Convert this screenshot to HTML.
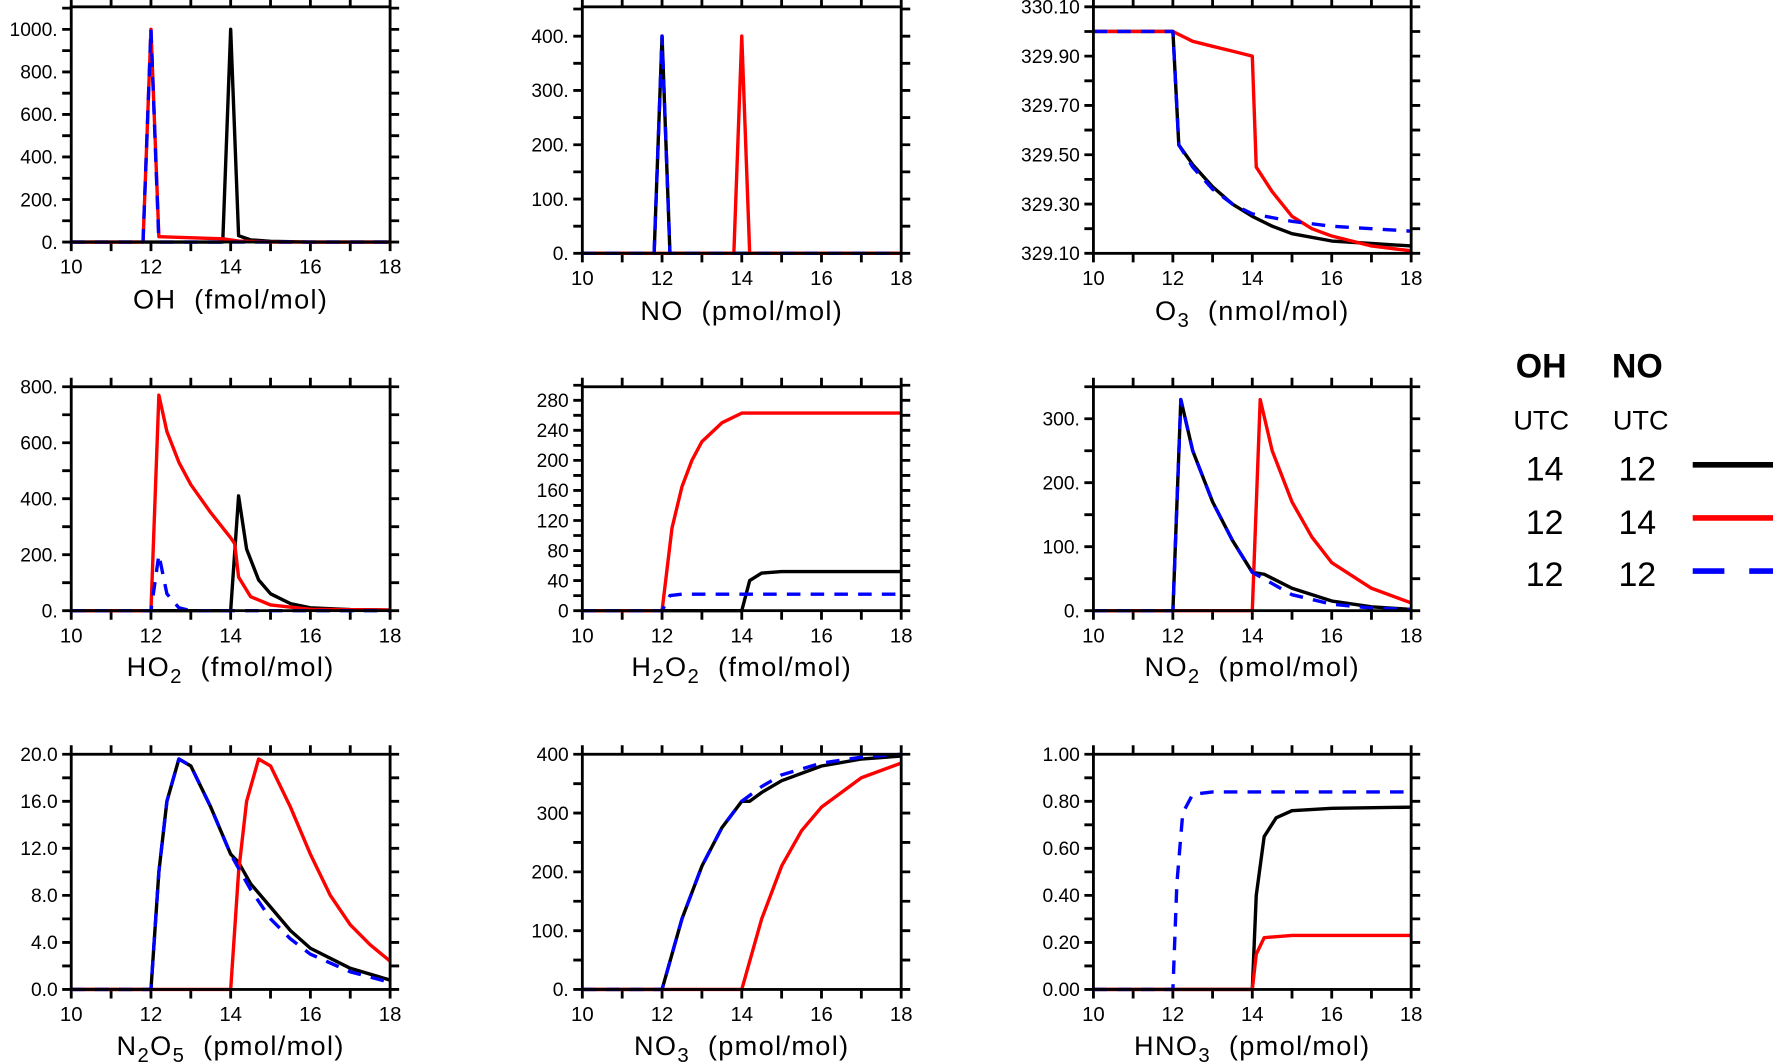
<!DOCTYPE html>
<html><head><meta charset="utf-8"><style>
html,body{margin:0;padding:0;background:#fff;}
svg{display:block;font-family:"Liberation Sans",sans-serif;}
</style></head><body>
<svg id="fig" width="1773" height="1063" viewBox="0 0 1568 940">
<g id="panels"></g>
<g>
<text x="1363" y="334" font-size="30" font-weight="bold" text-anchor="middle">OH</text>
<text x="1448" y="334" font-size="30" font-weight="bold" text-anchor="middle">NO</text>
<text x="1363" y="380" font-size="24" text-anchor="middle">UTC</text>
<text x="1451" y="380" font-size="24" text-anchor="middle">UTC</text>
<text x="1366" y="425" font-size="30" text-anchor="middle">14</text>
<text x="1448" y="425" font-size="30" text-anchor="middle">12</text>
<line x1="1497" y1="411" x2="1568" y2="411" stroke="#000" stroke-width="5"/>
<text x="1366" y="472" font-size="30" text-anchor="middle">12</text>
<text x="1448" y="472" font-size="30" text-anchor="middle">14</text>
<line x1="1497" y1="458" x2="1568" y2="458" stroke="#f00" stroke-width="5"/>
<text x="1366" y="518" font-size="30" text-anchor="middle">12</text>
<text x="1448" y="518" font-size="30" text-anchor="middle">12</text>
<line x1="1497" y1="505" x2="1568" y2="505" stroke="#00f" stroke-width="5" stroke-dasharray="28 22"/>
</g>
</svg>
<script>
// x tick labels
const xTicks = [10,12,14,16,18];
// OH
const ohBlackX=[10,13.8,14,14.2,14.5,15,16,18], ohBlackY=[0,0,1000,30,10,3,0,0];
const ohRedX=[10,11.8,12,12.2,13.8,14.2,15,18], ohRedY=[0,0,1000,25,15,5,0,0];
const ohBlueX=[10,11.8,12,12.2,18], ohBlueY=[0,0,1000,0,0];
const ohTicks=[0,200,400,600,800,1000], ohLabels=["0.","200.","400.","600.","800.","1000."];
// NO
const noBlackX=[10,11.8,12,12.2,18], noBlackY=[0,0,400,0,0];
const noRedX=[10,13.8,14,14.2,18], noRedY=[0,0,400,0,0];
const noBlueX=[10,11.8,12,12.2,18], noBlueY=[0,0,400,0,0];
const noTicks=[0,100,200,300,400], noLabels=["0.","100.","200.","300.","400."];
// O3
const o3BlackX=[10,12,12.15,12.5,13,13.5,14,14.5,15,16,17,18], o3BlackY=[330,330,329.54,329.46,329.37,329.3,329.25,329.21,329.18,329.15,329.14,329.13];
const o3RedX=[10,12,12.5,13,13.5,14,14.1,14.5,15,15.5,16,17,18], o3RedY=[330,330,329.96,329.94,329.92,329.9,329.45,329.35,329.25,329.2,329.17,329.13,329.11];
const o3BlueX=[10,12,12.15,12.5,13,13.5,14,15,16,17,18], o3BlueY=[330,330,329.54,329.45,329.36,329.3,329.26,329.23,329.21,329.2,329.19];
const o3Ticks=[329.1,329.3,329.5,329.7,329.9,330.1], o3Labels=["329.10","329.30","329.50","329.70","329.90","330.10"];
// HO2
const ho2RedX=[10,12,12.2,12.4,12.7,13,13.5,14,14.1,14.2,14.5,15,16,18], ho2RedY=[0,0,770,640,530,450,350,260,240,120,50,20,5,2];
const ho2BlackX=[10,14,14.2,14.4,14.7,15,15.5,16,17,18], ho2BlackY=[0,0,410,220,110,60,25,10,4,2];
const ho2BlueX=[10,12,12.2,12.4,12.7,13,18], ho2BlueY=[0,0,200,60,10,0,0];
const ho2Ticks=[0,200,400,600,800], ho2Labels=["0.","200.","400.","600.","800."];
// H2O2
const h2o2RedX=[10,12,12.25,12.5,12.75,13,13.5,14,18], h2o2RedY=[0,0,110,165,200,225,250,263,263];
const h2o2BlackX=[10,14,14.2,14.5,15,18], h2o2BlackY=[0,0,40,50,52,52];
const h2o2BlueX=[10,12,12.2,12.5,18], h2o2BlueY=[0,0,20,22,22];
const h2o2Ticks=[0,40,80,120,160,200,240,280], h2o2Labels=["0","40","80","120","160","200","240","280"];
// NO2
const no2BlackX=[10,12,12.2,12.5,13,13.5,14,14.3,15,16,17,18], no2BlackY=[0,0,330,250,170,110,60,57,35,15,6,2];
const no2RedX=[10,14,14.2,14.5,15,15.5,16,17,18], no2RedY=[0,0,330,250,170,115,75,35,12];
const no2BlueX=[10,12,12.2,12.5,13,13.5,14,15,16,17,18], no2BlueY=[0,0,330,250,170,110,60,25,10,4,2];
const no2Ticks=[0,100,200,300], no2Labels=["0.","100.","200.","300."];
// N2O5
const n2o5BlackX=[10,12,12.2,12.4,12.7,13,13.5,14,14.2,14.5,15,15.5,16,17,18], n2o5BlackY=[0,0,10,16,19.6,19,15.5,11.5,10.8,9,7,5,3.5,1.8,0.8];
const n2o5RedX=[10,14,14.2,14.4,14.7,15,15.5,16,16.5,17,17.5,18], n2o5RedY=[0,0,10,16,19.6,19,15.5,11.5,8,5.5,3.8,2.4];
const n2o5BlueX=[10,12,12.2,12.4,12.7,13,13.5,14,14.5,15,15.5,16,17,18], n2o5BlueY=[0,0,10,16,19.6,19,15.5,11.5,8.5,6,4.3,3,1.5,0.6];
const n2o5Ticks=[0,4,8,12,16,20], n2o5Labels=["0.0","4.0","8.0","12.0","16.0","20.0"];
// NO3
const no3BlackX=[10,12,12.5,13,13.5,14,14.2,14.5,15,16,17,18], no3BlackY=[0,0,120,210,275,320,320,335,355,380,392,397];
const no3RedX=[10,14,14.5,15,15.5,16,17,18], no3RedY=[0,0,120,210,270,310,360,385];
const no3BlueX=[10,12,12.5,13,13.5,14,14.5,15,16,17,18], no3BlueY=[0,0,120,210,275,320,345,365,385,395,400];
const no3Ticks=[0,100,200,300,400], no3Labels=["0.","100.","200.","300","400"];
// HNO3
const hno3BlackX=[10,14,14.1,14.3,14.6,15,16,18], hno3BlackY=[0,0,0.4,0.65,0.73,0.76,0.77,0.775];
const hno3RedX=[10,14,14.1,14.3,15,18], hno3RedY=[0,0,0.15,0.22,0.23,0.23];
const hno3BlueX=[10,12,12.1,12.25,12.5,13,18], hno3BlueY=[0,0,0.45,0.75,0.83,0.84,0.84];
const hno3Ticks=[0,0.2,0.4,0.6,0.8,1.0], hno3Labels=["0.00","0.20","0.40","0.60","0.80","1.00"];

const panels=[
 {n:"oh",x0:63,x1:345,top:6,bot:214,ymin:0,ymax:1106,minor:100,ticks:ohTicks,labels:ohLabels,title:["OH (fmol/mol)"],tY:273,s:[[ohBlackX,ohBlackY],[ohRedX,ohRedY],[ohBlueX,ohBlueY]]},
 {n:"no",x0:515,x1:797,top:6,bot:224,ymin:0,ymax:454,minor:50,ticks:noTicks,labels:noLabels,title:["NO (pmol/mol)"],tY:283,s:[[noBlackX,noBlackY],[noRedX,noRedY],[noBlueX,noBlueY]]},
 {n:"o3",x0:967,x1:1248,top:6,bot:224,ymin:329.1,ymax:330.1,minor:0.1,ticks:o3Ticks,labels:o3Labels,title:["O","3"," (nmol/mol)"],tY:283,s:[[o3BlackX,o3BlackY],[o3RedX,o3RedY],[o3BlueX,o3BlueY]]},
 {n:"ho2",x0:63,x1:345,top:342,bot:540,ymin:0,ymax:800,minor:100,ticks:ho2Ticks,labels:ho2Labels,title:["HO","2"," (fmol/mol)"],tY:598,s:[[ho2BlackX,ho2BlackY],[ho2RedX,ho2RedY],[ho2BlueX,ho2BlueY]]},
 {n:"h2o2",x0:515,x1:797,top:342,bot:540,ymin:0,ymax:298,minor:20,ticks:h2o2Ticks,labels:h2o2Labels,title:["H","2","O","2"," (fmol/mol)"],tY:598,s:[[h2o2BlackX,h2o2BlackY],[h2o2RedX,h2o2RedY],[h2o2BlueX,h2o2BlueY]]},
 {n:"no2",x0:967,x1:1248,top:342,bot:540,ymin:0,ymax:350,minor:50,ticks:no2Ticks,labels:no2Labels,title:["NO","2"," (pmol/mol)"],tY:598,s:[[no2BlackX,no2BlackY],[no2RedX,no2RedY],[no2BlueX,no2BlueY]]},
 {n:"n2o5",x0:63,x1:345,top:667,bot:875,ymin:0,ymax:20,minor:2,ticks:n2o5Ticks,labels:n2o5Labels,title:["N","2","O","5"," (pmol/mol)"],tY:933,s:[[n2o5BlackX,n2o5BlackY],[n2o5RedX,n2o5RedY],[n2o5BlueX,n2o5BlueY]]},
 {n:"no3",x0:515,x1:797,top:667,bot:875,ymin:0,ymax:400,minor:50,ticks:no3Ticks,labels:no3Labels,title:["NO","3"," (pmol/mol)"],tY:933,s:[[no3BlackX,no3BlackY],[no3RedX,no3RedY],[no3BlueX,no3BlueY]]},
 {n:"hno3",x0:967,x1:1248,top:667,bot:875,ymin:0,ymax:1,minor:0.1,ticks:hno3Ticks,labels:hno3Labels,title:["HNO","3"," (pmol/mol)"],tY:933,s:[[hno3BlackX,hno3BlackY],[hno3RedX,hno3RedY],[hno3BlueX,hno3BlueY]]}
];
const NS="http://www.w3.org/2000/svg";
const root=document.getElementById('panels');
function mk(tag,attrs,parent){const e=document.createElementNS(NS,tag);for(const k in attrs)e.setAttribute(k,attrs[k]);parent.appendChild(e);return e;}
const colors=["#000","#f00","#00f"], sNames=["black","red","blue"];
panels.forEach(p=>{
 const g=mk('g',{},root);
 
 
 const sx=v=>p.x0+(v-10)/8*(p.x1-p.x0);
 const sy=v=>p.bot-(v-p.ymin)/(p.ymax-p.ymin)*(p.bot-p.top);
 const TL=8;
 let d="";
 for(let x=10;x<=18;x++){const X=sx(x);d+=`M${X},${p.bot}v${TL}M${X},${p.top}v${-TL}`;}
 const nMinor=Math.round((p.ymax-p.ymin)/p.minor+1e-6);
 for(let i=0;i<=nMinor;i++){const Y=sy(p.ymin+i*p.minor);d+=`M${p.x0},${Y}h${-TL}M${p.x1},${Y}h${TL}`;}
 const tk=mk('path',{d:d,stroke:'#000','stroke-width':2.5,fill:'none'},g);
 
 
 const clip=mk('clipPath',{id:'c'+p.n},g);
 mk('rect',{x:p.x0,y:p.top-2,width:p.x1-p.x0,height:p.bot-p.top+4},clip);
 p.s.forEach((s,i)=>{
  const pts=s[0].map((x,j)=>sx(x).toFixed(1)+','+sy(s[1][j]).toFixed(1)).join(' ');
  const a={points:pts,fill:'none',stroke:colors[i],'stroke-width':3,'stroke-linejoin':'round','clip-path':`url(#c${p.n})`};
  if(i==2)a['stroke-dasharray']='12 9';
  const pl=mk('polyline',a,g);
  
  
 });
 const fr=mk('rect',{x:p.x0,y:p.top,width:p.x1-p.x0,height:p.bot-p.top,fill:'none',stroke:'#000','stroke-width':2.5},g);
 
 
 xTicks.forEach(x=>{
  const t=mk('text',{x:sx(x),y:p.bot+28,'font-size':18,'text-anchor':'middle'},g);
  t.textContent=x;
  
  
 });
 p.ticks.forEach((v,i)=>{
  const t=mk('text',{x:p.x0-12,y:sy(v)+6,'font-size':17,'text-anchor':'end'},g);
  t.textContent=p.labels[i];
  
  
 });
 const tt=mk('text',{x:(p.x0+p.x1)/2,y:p.tY,'font-size':24,'text-anchor':'middle','letter-spacing':'1.2'},g);
 
 
 p.title.forEach((part,i)=>{
  const isSub = p.title.length>1 && (i%2==1) && /^\d$/.test(part);
  const ts=mk('tspan',isSub?{'font-size':18,dy:6}:(i>0&&/^\d$/.test(p.title[i-1])?{dy:-6}:{}),tt);
  ts.textContent=part.replace(' ',' \u00a0');
 });
});
</script>
</body></html>
